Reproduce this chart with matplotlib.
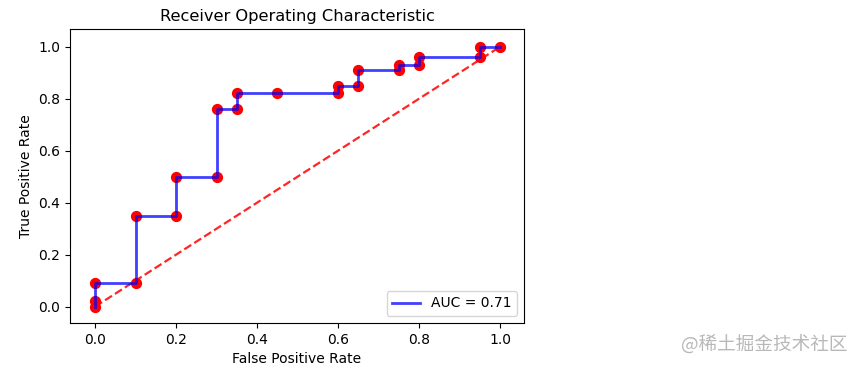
import matplotlib
matplotlib.use("Agg")
import matplotlib.pyplot as plt

fpr = [0.0, 0.0, 0.0, 0.1, 0.1, 0.2, 0.2, 0.3, 0.3, 0.35, 0.35, 0.45, 0.6, 0.6, 0.65, 0.65, 0.75, 0.75, 0.8, 0.8, 0.95, 0.95, 1.0]
tpr = [0.0, 0.02, 0.09, 0.09, 0.35, 0.35, 0.5, 0.5, 0.76, 0.76, 0.82, 0.82, 0.82, 0.85, 0.85, 0.91, 0.91, 0.93, 0.93, 0.96, 0.96, 1.0, 1.0]
auc_label = "AUC = 0.71"
diag = [0, 1]

fig = plt.figure(figsize=(8.6, 3.68), dpi=100)
ax = fig.add_axes([0.0814, 0.1223, 0.528, 0.799])

ax.scatter(fpr, tpr, color="red", s=50, zorder=2)
ax.plot(fpr, tpr, color="blue", alpha=0.75, lw=2.0, label=auc_label, zorder=3)
ax.plot(diag, diag, "r--", alpha=0.85, lw=1.6, zorder=1)
ax.set_xlim(-0.062, 1.059)
ax.set_ylim(-0.063, 1.068)
ax.set_title("Receiver Operating Characteristic", fontsize=11.7)
ax.set_xlabel("False Positive Rate", fontsize=10)
ax.set_ylabel("True Positive Rate", fontsize=10)
ax.tick_params(labelsize=10)
ax.legend(loc="lower right", fontsize=10)

fig.text(0.986, 0.065, "@稀土掘金技术社区", ha="right", va="center", fontsize=13.4,
         color="#b8b8b8", family=["Noto Sans CJK SC", "DejaVu Sans"])

fig.savefig("out.png", dpi=100)
